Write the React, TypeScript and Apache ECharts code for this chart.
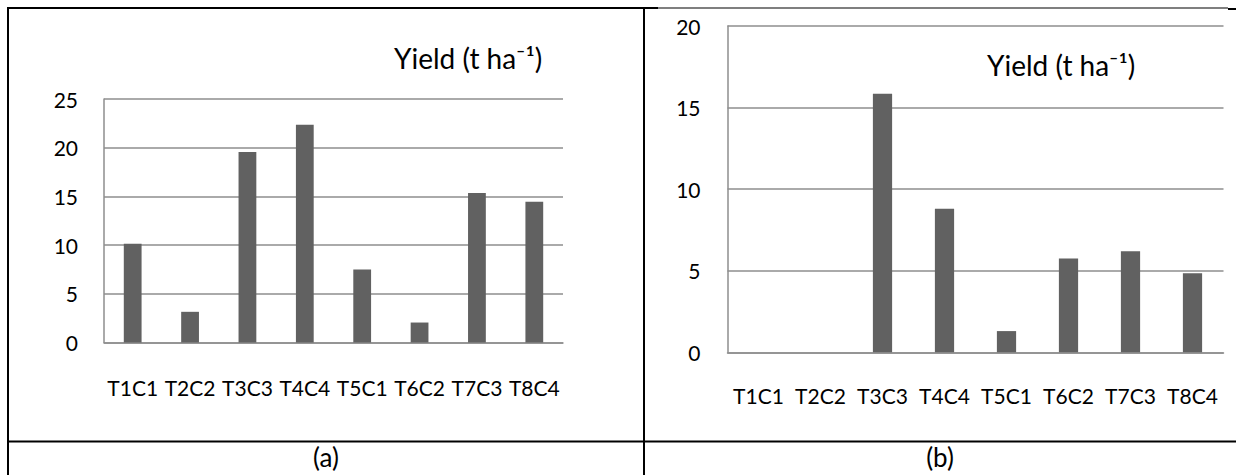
import React, { useEffect, useRef } from "react";
import * as echarts from "echarts";

const categories = ["T1C1", "T2C2", "T3C3", "T4C4", "T5C1", "T6C2", "T7C3", "T8C4"];
const yieldA = [10.15, 3.15, 19.55, 22.35, 7.5, 2.05, 15.35, 14.45];
const yieldB = [0, 0, 15.85, 8.8, 1.3, 5.75, 6.2, 4.85];
const axisMaxA = 25;
const axisMaxB = 20;
const tickStep = 5;
const titleText = "Yield (t ha\u207B\u00B9)";
const captions = ["(a)", "(b)"];

const FONT = "Lato";
const GRID_COLOR = "#8e8e8e";
const BAR_COLOR = "#616161";

export default function App() {
  const ref = useRef<HTMLDivElement>(null);

  useEffect(() => {
    if (!ref.current) return;
    const chart = echarts.init(ref.current, null, { renderer: "svg" });

    const xAxisBase = (gridIndex: number, margin: number) => ({
      type: "category",
      gridIndex,
      data: categories,
      axisLine: { show: true, lineStyle: { color: GRID_COLOR, width: 1.5 } },
      axisTick: { show: false },
      axisLabel: {
        interval: 0,
        color: "#000",
        fontFamily: FONT,
        fontSize: 21,
        margin,
      },
    });

    const yAxisBase = (gridIndex: number, max: number, margin: number) => ({
      type: "value",
      gridIndex,
      min: 0,
      max,
      interval: tickStep,
      axisLine: { show: true, lineStyle: { color: GRID_COLOR, width: 1.5 } },
      axisTick: { show: false },
      splitLine: { show: true, lineStyle: { color: GRID_COLOR, width: 1.5 } },
      axisLabel: {
        color: "#000",
        fontFamily: FONT,
        fontSize: 21,
        margin,
      },
    });

    const border = (x1: number, y1: number, x2: number, y2: number, w = 2) => ({
      type: "line",
      shape: { x1, y1, x2, y2 },
      style: { stroke: "#000", lineWidth: w },
      z: 100,
    });

    const txt = (text: string, x: number, y: number, size: number, align: string) => ({
      type: "text",
      x,
      y,
      style: {
        text,
        fill: "#000",
        fontFamily: FONT,
        fontSize: size,
        align,
        verticalAlign: "middle",
      },
      z: 100,
    });

    chart.setOption({
      animation: false,
      backgroundColor: "#fff",
      grid: [
        { left: 104, top: 99, width: 459, height: 243.5 },
        { left: 727.5, top: 26, width: 496, height: 326.3 },
      ],
      xAxis: [xAxisBase(0, 34), xAxisBase(1, 33)],
      yAxis: [yAxisBase(0, axisMaxA, 26), yAxisBase(1, axisMaxB, 27)],
      series: [
        {
          type: "bar",
          xAxisIndex: 0,
          yAxisIndex: 0,
          data: yieldA,
          barWidth: "31%",
          itemStyle: { color: BAR_COLOR },
        },
        {
          type: "bar",
          xAxisIndex: 1,
          yAxisIndex: 1,
          data: yieldB,
          barWidth: "31%",
          itemStyle: { color: BAR_COLOR },
        },
      ],
      graphic: [
        border(7, 8, 658, 8),
        border(658, 8, 1228, 8, 1.2),
        border(1228, 9, 1236, 9),
        border(8, 8, 8, 475),
        border(644, 8, 644, 475),
        border(7, 441.5, 1236, 441.5),
        txt(titleText, 394, 58, 28, "left"),
        txt(titleText, 987, 65, 28, "left"),
        txt(captions[0], 326, 457, 26, "center"),
        txt(captions[1], 940, 457, 26, "center"),
      ],
    });

    return () => chart.dispose();
  }, []);

  return (
    <div
      ref={ref}
      style={{
        position: "fixed",
        left: 0,
        top: 0,
        width: 1236,
        height: 475,
        background: "#fff",
      }}
    />
  );
}
